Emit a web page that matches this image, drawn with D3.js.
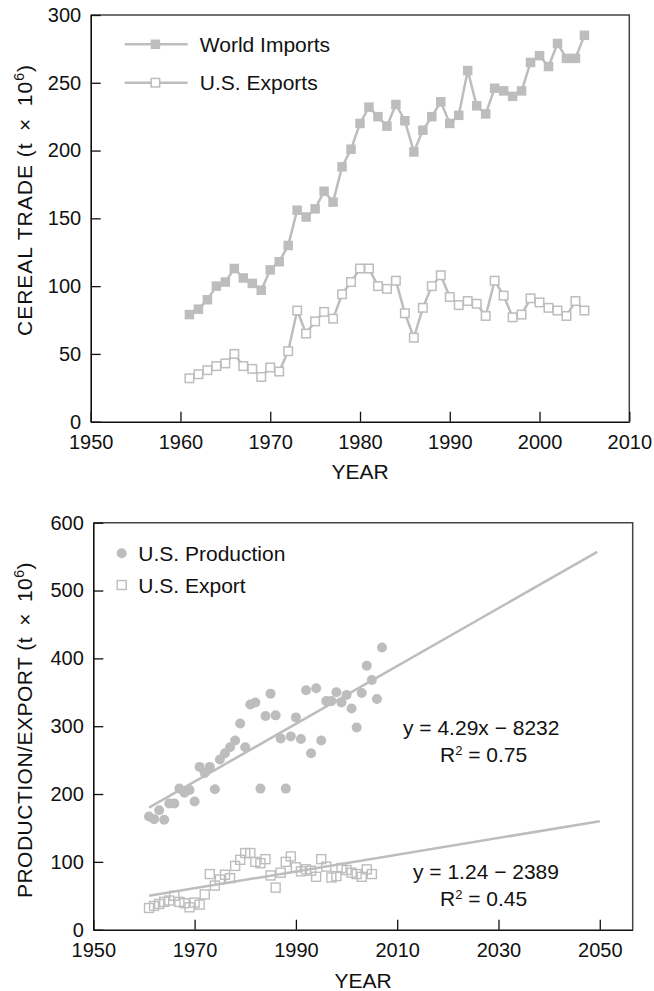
<!DOCTYPE html>
<html>
<head>
<meta charset="utf-8">
<script src="https://cdn.jsdelivr.net/npm/d3@7"></script>
<style>
  html, body { margin: 0; padding: 0; background: #fff; }
  svg { display: block; font-family: "Liberation Sans", Arial, Helvetica, sans-serif; }
</style>
</head>
<body>
<svg id="chart" width="654" height="991"></svg>
<script>
// ---------- DATA ----------
const tradeYears = [1961,1962,1963,1964,1965,1966,1967,1968,1969,1970,1971,1972,1973,1974,1975,1976,1977,1978,1979,1980,1981,1982,1983,1984,1985,1986,1987,1988,1989,1990,1991,1992,1993,1994,1995,1996,1997,1998,1999,2000,2001,2002,2003,2004,2005];
const worldImports = [79,83,90,100,103,113,106,102,97,112,118,130,156,151,157,170,162,188,201,220,232,225,218,234,222,199,215,225,236,220,226,259,233,227,246,244,240,244,265,270,262,279,268,268,285];
const usExports = [32,35,38,41,43,50,41,39,33,40,37,52,82,65,74,81,76,94,103,113,113,100,98,104,80,62,84,100,108,92,86,89,87,78,104,93,77,79,91,88,84,82,78,89,82];

const prodYears = [1961,1962,1963,1964,1965,1966,1967,1968,1969,1970,1971,1972,1973,1974,1975,1976,1977,1978,1979,1980,1981,1982,1983,1984,1985,1986,1987,1988,1989,1990,1991,1992,1993,1994,1995,1996,1997,1998,1999,2000,2001,2002,2003,2004,2005,2006,2007];
const usProduction = [167,163,176,162,186,186,208,202,206,189,240,231,240,207,251,260,269,279,304,269,332,335,208,315,348,316,282,208,285,313,281,353,260,356,279,337,337,350,335,346,326,298,349,389,368,340,416];

const prodTrendYears = [1961, 2049.5];
const prodTrendVals = [180, 557];
const expTrendYears = [1961, 2050];
const expTrendVals = [50, 160];

const topXTicks = [1950,1960,1970,1980,1990,2000,2010];
const topYTicks = [0,50,100,150,200,250,300];
const botXTicks = [1950,1970,1990,2010,2030,2050];
const botYTicks = [0,100,200,300,400,500,600];

// ---------- STYLE ----------
const GRAY = "#bdbdbd";
const FS = 20;      // tick labels
const FL = 21;      // legend / annotation / titles
const svg = d3.select("#chart");

function frame(g, x, y) {
  const [x0, x1] = x.range(), [y0, y1] = y.range();
  g.append("path")
    .attr("d", `M${x0},${y1}H${x1}V${y0}`)
    .attr("fill", "none").attr("stroke", "#444").attr("stroke-width", 1.5);
}

function axes(g, x, y, xt, yt) {
  const [y0] = y.range(), [x0] = x.range();
  const ax = g.append("g").attr("transform", `translate(0,${y0})`)
    .call(d3.axisBottom(x).tickValues(xt).tickFormat(d3.format("d")).tickSizeInner(-10).tickSizeOuter(0).tickPadding(13.5));
  const ay = g.append("g").attr("transform", `translate(${x0},0)`)
    .call(d3.axisLeft(y).tickValues(yt).tickFormat(d3.format("d")).tickSizeInner(-10).tickSizeOuter(0).tickPadding(9.5));
  [ax, ay].forEach(a => {
    a.attr("font-family", null).attr("font-size", null);
    a.selectAll("text").attr("font-size", FS).attr("fill", "#111");
    a.selectAll("line").attr("stroke", "#111").attr("stroke-width", 1.3);
    a.select(".domain").attr("stroke", "#111").attr("stroke-width", 1.6);
  });
}

function ylabel(g, cx, cy, main, spacing) {
  const t = g.append("text")
    .attr("transform", `translate(${cx},${cy}) rotate(-90)`)
    .attr("text-anchor", "middle").attr("font-size", FL).attr("fill", "#111")
    .attr("letter-spacing", spacing);
  t.append("tspan").text(main + " (t\u2002\u00D7\u200210");
  t.append("tspan").attr("font-size", 14).attr("dy", -8).text("6");
  t.append("tspan").attr("dy", 8).text(")");
}

// ================= TOP CHART =================
const xT = d3.scaleLinear().domain([1950, 2010]).range([90.7, 629.3]);
const yT = d3.scaleLinear().domain([0, 300]).range([421.7, 15]);
const gT = svg.append("g");
frame(gT, xT, yT);

const line = (xs, ys) => d3.line().x(d => xs(d[0])).y(d => ys(d[1]));
const impData = tradeYears.map((d, i) => [d, worldImports[i]]);
const expData = tradeYears.map((d, i) => [d, usExports[i]]);

gT.append("path").datum(impData).attr("d", line(xT, yT)).attr("fill", "none").attr("stroke", GRAY).attr("stroke-width", 2.5);
gT.append("path").datum(expData).attr("d", line(xT, yT)).attr("fill", "none").attr("stroke", GRAY).attr("stroke-width", 2.5);

const S = 9.5;
gT.selectAll("rect.imp").data(impData).join("rect").attr("class", "imp")
  .attr("x", d => xT(d[0]) - S / 2).attr("y", d => yT(d[1]) - S / 2)
  .attr("width", S).attr("height", S).attr("fill", GRAY);
gT.selectAll("rect.exp").data(expData).join("rect").attr("class", "exp")
  .attr("x", d => xT(d[0]) - S / 2 + 0.5).attr("y", d => yT(d[1]) - S / 2 + 0.5)
  .attr("width", S - 1).attr("height", S - 1).attr("fill", "#fff").attr("stroke", GRAY).attr("stroke-width", 1.5);

axes(gT, xT, yT, topXTicks, topYTicks);

// legend top
const legT = [{ label: "World Imports", y: 44.3, filled: true }, { label: "U.S. Exports", y: 82.7, filled: false }];
legT.forEach(l => {
  gT.append("line").attr("x1", 124.7).attr("x2", 187.6).attr("y1", l.y).attr("y2", l.y).attr("stroke", GRAY).attr("stroke-width", 2.5);
  const r = gT.append("rect").attr("x", 155.4 - S / 2).attr("y", l.y - S / 2).attr("width", S).attr("height", S);
  if (l.filled) r.attr("fill", GRAY);
  else r.attr("x", 155.4 - S / 2 + 0.5).attr("y", l.y - S / 2 + 0.5).attr("width", S - 1).attr("height", S - 1).attr("fill", "#fff").attr("stroke", GRAY).attr("stroke-width", 1.5);
  gT.append("text").attr("x", 199.8).attr("y", l.y + 7.5).attr("font-size", FL).attr("fill", "#111").text(l.label);
});

ylabel(gT, 32, 200, "CEREAL TRADE", 1.0);
gT.append("text").attr("x", 360).attr("y", 479).attr("text-anchor", "middle").attr("font-size", FL).attr("fill", "#111").text("YEAR");

// ================= BOTTOM CHART =================
const xB = d3.scaleLinear().domain([1950, 2056.5]).range([93.3, 632.7]);
const yB = d3.scaleLinear().domain([0, 600]).range([929.7, 522.7]);
const gB = svg.append("g");
frame(gB, xB, yB);

const prodData = prodYears.map((d, i) => [d, usProduction[i]]);
const exp2Data = tradeYears.map((d, i) => [d, usExports[i]]);

gB.selectAll("circle.prod").data(prodData).join("circle").attr("class", "prod")
  .attr("cx", d => xB(d[0])).attr("cy", d => yB(d[1])).attr("r", 5).attr("fill", GRAY);

gB.selectAll("rect.exp2").data(exp2Data).join("rect").attr("class", "exp2")
  .attr("x", d => xB(d[0]) - 4.5).attr("y", d => yB(d[1]) - 4.5)
  .attr("width", 9).attr("height", 9).attr("fill", "none").attr("stroke", GRAY).attr("stroke-width", 1.4);

const trendP = prodTrendYears.map((d, i) => [d, prodTrendVals[i]]);
const trendE = expTrendYears.map((d, i) => [d, expTrendVals[i]]);
gB.append("path").datum(trendP).attr("d", line(xB, yB)).attr("fill", "none").attr("stroke", GRAY).attr("stroke-width", 2.5);
gB.append("path").datum(trendE).attr("d", line(xB, yB)).attr("fill", "none").attr("stroke", GRAY).attr("stroke-width", 2.5);

axes(gB, xB, yB, botXTicks, botYTicks);

// legend bottom
gB.append("circle").attr("cx", 121.7).attr("cy", 553.3).attr("r", 5).attr("fill", GRAY);
gB.append("text").attr("x", 138.3).attr("y", 560.7).attr("font-size", FL).attr("fill", "#111").text("U.S. Production");
gB.append("rect").attr("x", 117.2).attr("y", 580.5).attr("width", 9).attr("height", 9).attr("fill", "none").attr("stroke", GRAY).attr("stroke-width", 1.4);
gB.append("text").attr("x", 138.3).attr("y", 592.7).attr("font-size", FL).attr("fill", "#111").text("U.S. Export");

// equations
function eq(g, x, y, parts) {
  const t = g.append("text").attr("x", x).attr("y", y).attr("font-size", FL).attr("fill", "#111");
  parts.forEach(p => {
    const s = t.append("tspan").text(p.t);
    if (p.sup) s.attr("font-size", 13).attr("dy", -7);
    if (p.down) s.attr("dy", 7);
  });
}
eq(gB, 403, 735, [{ t: "y = 4.29x \u2212 8232" }]);
eq(gB, 440, 762, [{ t: "R" }, { t: "2", sup: true }, { t: " = 0.75", down: true }]);
eq(gB, 413, 879, [{ t: "y = 1.24 \u2212 2389" }]);
eq(gB, 440, 906, [{ t: "R" }, { t: "2", sup: true }, { t: " = 0.45", down: true }]);

ylabel(gB, 32, 730, "PRODUCTION/EXPORT", 0.5);
gB.append("text").attr("x", 363).attr("y", 988).attr("text-anchor", "middle").attr("font-size", FL).attr("fill", "#111").text("YEAR");
</script>
</body>
</html>
